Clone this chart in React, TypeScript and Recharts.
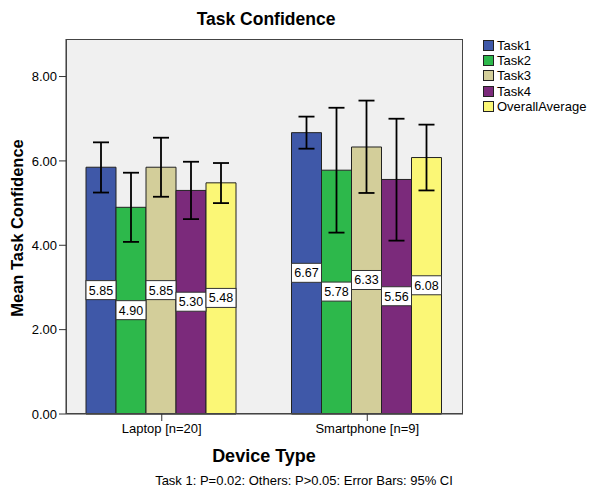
import React from 'react';
import { BarChart, Bar, XAxis, YAxis, CartesianGrid, ErrorBar, LabelList, Label } from 'recharts';

const devices = ['Laptop [n=20]', 'Smartphone [n=9]'];
const seriesNames = ['Task1', 'Task2', 'Task3', 'Task4', 'OverallAverage'];
const seriesColors = ['#3F58A8', '#2DB84B', '#D3CE9A', '#7B2A7B', '#FBF776'];

// means per series, [laptop, smartphone]
const task1 = [5.85, 6.67];
const task2 = [4.9, 5.78];
const task3 = [5.85, 6.33];
const task4 = [5.3, 5.56];
const overall = [5.48, 6.08];

// 95% CI bounds
const ciLow = [
  [5.25, 6.29],
  [4.08, 4.3],
  [5.15, 5.24],
  [4.62, 4.11],
  [5.0, 5.3],
];
const ciHigh = [
  [6.44, 7.05],
  [5.72, 7.26],
  [6.55, 7.43],
  [5.98, 7.0],
  [5.95, 6.86],
];

const yTicks = [0, 2, 4, 6, 8];

const means = [task1, task2, task3, task4, overall];

const data = devices.map((d, i) => {
  const row: Record<string, any> = { device: d };
  seriesNames.forEach((s, k) => {
    row[s] = means[k][i];
    row[s + '_err'] = [means[k][i] - ciLow[k][i], ciHigh[k][i] - means[k][i]];
  });
  return row;
});

const font = '"Liberation Sans", Arial, sans-serif';

const ValueBox = (props: any) => {
  const { x, y, width, height, value } = props;
  const cy = y + height / 2;
  return (
    <g>
      <rect x={x} y={cy - 10} width={width} height={19} fill="#fff" stroke="#333" strokeWidth={1} />
      <text x={x + width / 2} y={cy} textAnchor="middle" dominantBaseline="central" fontSize={12.5} fontFamily={font} fill="#000">
        {Number(value).toFixed(2)}
      </text>
    </g>
  );
};

export default function App() {
  return (
    <div style={{ position: 'absolute', left: 0, top: 0, width: 592, height: 491, background: '#fff', fontFamily: font }}>
      <div style={{ position: 'absolute', left: 0, width: 532, top: 9, textAlign: 'center', fontSize: 17.5, fontWeight: 'bold' }}>
        Task Confidence
      </div>
      <BarChart
        width={592}
        height={491}
        data={data}
        margin={{ top: 39, right: 129, bottom: 47, left: 0 }}
        barCategoryGap={27}
        barGap={0}
      >
        <CartesianGrid horizontal={false} vertical={false} fill="#F0F0F0" />
        <XAxis
          dataKey="device"
          height={30}
          padding={{ left: -7, right: -7 }}
          tick={{ fontSize: 13, fill: '#000', fontFamily: font }}
          tickSize={7}
          tickMargin={3}
          stroke="#333"
        >
          <Label
            content={() => (
              <text x={264} y={462} textAnchor="middle" fontSize={18} fontWeight="bold" fontFamily={font} fill="#000">
                Device Type
              </text>
            )}
          />
        </XAxis>
        <YAxis
          width={66}
          domain={[0, 8.89]}
          ticks={yTicks}
          tickFormatter={(v: number) => v.toFixed(2)}
          tick={{ fontSize: 13, fill: '#000', fontFamily: font }}
          tickSize={7}
          tickMargin={2}
          stroke="#333"
        >
          <Label
            content={() => (
              <text
                x={23}
                y={228}
                transform="rotate(-90 23 228)"
                textAnchor="middle"
                fontSize={16.5}
                fontWeight="bold"
                fontFamily={font}
                fill="#000"
              >
                Mean Task Confidence
              </text>
            )}
          />
        </YAxis>
        {seriesNames.map((s, k) => (
          <Bar key={s} dataKey={s} fill={seriesColors[k]} stroke="#222" strokeWidth={1} isAnimationActive={false}>
            <ErrorBar dataKey={s + '_err'} width={8} stroke="#000" strokeWidth={1.8} />
            <LabelList dataKey={s} content={<ValueBox />} />
          </Bar>
        ))}
      </BarChart>
      <div style={{ position: 'absolute', left: 66, top: 39, width: 397, height: 375, border: '1px solid #444', boxSizing: 'border-box', pointerEvents: 'none' }} />
      <div style={{ position: 'absolute', left: 483, top: 38, fontSize: 13, color: '#000' }}>
        {seriesNames.map((s, k) => (
          <div key={s} style={{ display: 'flex', alignItems: 'center', height: 15.2 }}>
            <span style={{ width: 11, height: 11, background: seriesColors[k], border: '1px solid #222', marginRight: 3, boxSizing: 'border-box' }} />
            <span>{s}</span>
          </div>
        ))}
      </div>
      <div style={{ position: 'absolute', left: 0, width: 608, top: 473, textAlign: 'center', fontSize: 13 }}>
        Task 1: P=0.02: Others: P&gt;0.05: Error Bars: 95% CI
      </div>
    </div>
  );
}
